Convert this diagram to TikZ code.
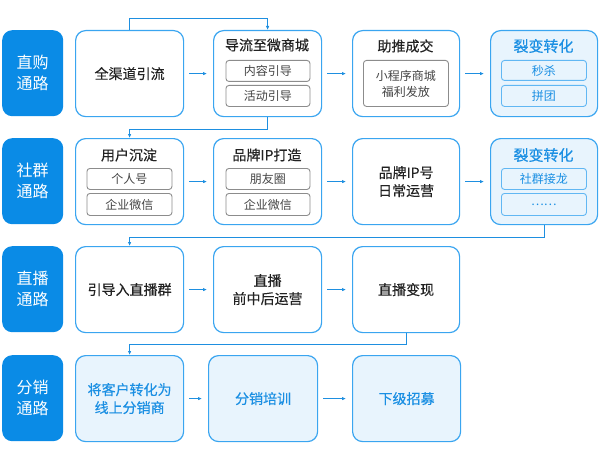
\documentclass[tikz,border=0pt]{standalone}
\usepackage{fontspec}
\setmainfont{Noto Sans CJK SC}
\newfontfamily\medfont[FakeBold=0.3]{Noto Sans CJK SC}
\newfontfamily\boldishfont[FakeBold=0.5]{Noto Sans CJK SC}
\usetikzlibrary{arrows.meta}
\definecolor{lblue}{HTML}{0A8BE6}
\definecolor{bblue}{HTML}{3AA5F0}
\definecolor{lfill}{HTML}{E8F4FD}
\definecolor{cblue}{HTML}{1E8FE0}
\definecolor{tblue}{HTML}{1A8FE3}
\definecolor{txt}{HTML}{222222}
\definecolor{stxt}{HTML}{444444}
\definecolor{sgray}{HTML}{8C8C8C}
\tikzset{
  lab/.style={fill=lblue, rounded corners=10pt, text=white, anchor=north west,
    minimum width=61pt, minimum height=86pt, inner sep=0pt, align=center,
    font=\fontsize{16}{21}\selectfont},
  mbox/.style={draw=bblue, line width=1.2pt, fill=white, rounded corners=10pt,
    anchor=north west, minimum height=86pt, inner sep=0pt, align=center, text=txt,
    font=\medfont\fontsize{14}{18}\selectfont},
  lbox/.style={mbox, fill=lfill, text=tblue},
  ttl/.style={text=txt, inner sep=0pt, font=\medfont\fontsize{14}{18}\selectfont},
  bttl/.style={ttl, text=tblue, font=\boldishfont\fontsize{15}{18}\selectfont},
  sub/.style={draw=sgray, line width=0.9pt, fill=white, rounded corners=3pt,
    anchor=north west, inner sep=0pt, text=stxt, align=center,
    font=\fontsize{12}{16}\selectfont},
  bsub/.style={sub, draw=bblue!80, fill=lfill, text=tblue},
  conn/.style={draw=cblue, line width=1pt},
  arr/.style={conn, -{Latex[length=4pt,width=3.5pt]}},
  harr/.style={arr, shorten <=5pt, shorten >=6pt}
}
\begin{document}
\begin{tikzpicture}[x=1pt,y=-1pt]
\useasboundingbox (0,0) rectangle (600,460);
% labels
\node[lab] (l1) at (2,30) {直购\\通路};
\node[lab] (l2) at (2,138) {社群\\通路};
\node[lab] (l3) at (2,246) {直播\\通路};
\node[lab] (l4) at (2,355) {分销\\通路};
% row 1
\node[mbox, minimum width=108pt] (a1) at (75,30) {全渠道引流};
\node[mbox, minimum width=108pt] (a2) at (213,30) {};
\node[mbox, minimum width=107pt] (a3) at (352,30) {};
\node[lbox, minimum width=107pt] (a4) at (490,30) {};
\node[ttl] (a2t) at (267,45) {导流至微商城};
\node[sub, minimum width=84pt, minimum height=21pt] (a2s1) at (225.5,60) {内容引导};
\node[sub, minimum width=84pt, minimum height=21pt] (a2s2) at (225.5,85) {活动引导};
\node[ttl] (a3t) at (405.5,46) {助推成交};
\node[sub, minimum width=85pt, minimum height=46pt] (a3s1) at (363,60) {小程序商城\\福利发放};
\node[bttl] (a4t) at (543.5,46) {裂变转化};
\node[bsub, minimum width=85pt, minimum height=20pt] (a4s1) at (501,60) {秒杀};
\node[bsub, minimum width=85pt, minimum height=21pt] (a4s2) at (501,85) {拼团};
% row 2
\node[mbox, minimum width=108pt] (b1) at (75,138) {};
\node[mbox, minimum width=108pt] (b2) at (213,138) {};
\node[mbox, minimum width=107pt] (b3) at (352,138) {品牌IP号\\日常运营};
\node[lbox, minimum width=107pt] (b4) at (490,138) {};
\node[ttl] (b1t) at (129,155) {用户沉淀};
\node[sub, minimum width=85pt, minimum height=21pt] (b1s1) at (86.5,168) {个人号};
\node[sub, minimum width=85pt, minimum height=22pt] (b1s2) at (86.5,193) {企业微信};
\node[ttl] (b2t) at (267,155) {品牌IP打造};
\node[sub, minimum width=84pt, minimum height=21pt] (b2s1) at (225.5,168) {朋友圈};
\node[sub, minimum width=84pt, minimum height=22pt] (b2s2) at (225.5,193) {企业微信};
\node[bttl] (b4t) at (543.5,155) {裂变转化};
\node[bsub, minimum width=85pt, minimum height=21pt] (b4s1) at (501,168) {社群接龙};
\node[bsub, minimum width=85pt, minimum height=22pt] (b4s2) at (501,193) {……};
% row 3
\node[mbox, minimum width=108pt] (c1) at (75,246) {引导入直播群};
\node[mbox, minimum width=108pt] (c2) at (213,246) {直播\\前中后运营};
\node[mbox, minimum width=107pt] (c3) at (352,246) {直播变现};
% row 4
\node[lbox, minimum width=108pt] (d1) at (75,355) {将客户转化为\\线上分销商};
\node[lbox, minimum width=109pt] (d2) at (208,355) {分销培训};
\node[lbox, minimum width=108pt] (d3) at (352,355) {下级招募};
% horizontal arrows
\draw[harr] (a1.east) -- (a2.west);
\draw[harr] (a2.east) -- (a3.west);
\draw[harr] (a3.east) -- (a4.west);
\draw[harr] (b1.east) -- (b2.west);
\draw[harr] (b2.east) -- (b3.west);
\draw[harr] (b3.east) -- (b4.west);
\draw[harr] (c1.east) -- (c2.west);
\draw[harr] (c2.east) -- (c3.west);
\draw[harr] (d1.east) -- (d2.west);
\draw[harr] (d2.east) -- (d3.west);
% routing connectors
\draw[arr] (a1.north) -- ++(0,-11) -| (a2.north);
\draw[arr] (a2.south) -- ++(0,12) -| (b1.north);
\draw[arr] (b4.south) -- ++(0,12) -| (c1.north);
\draw[arr] (c3.south) -- ++(0,11) -| (d1.north);
\end{tikzpicture}
\end{document}
